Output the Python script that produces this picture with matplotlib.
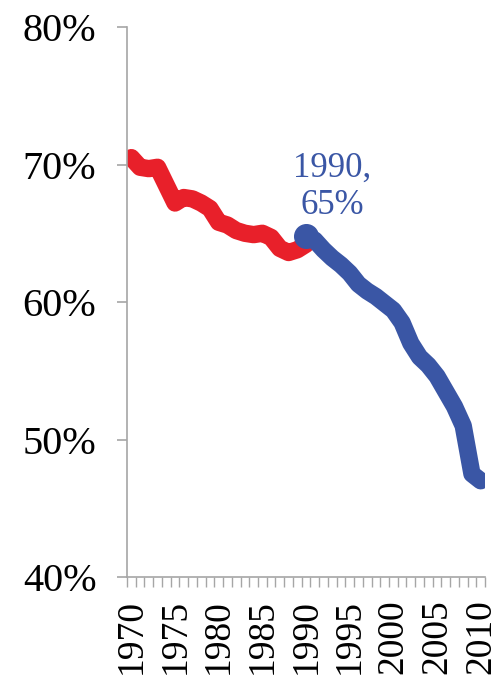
import numpy as np
import matplotlib.pyplot as plt

# share of something
red_years = np.arange(1970, 1991)
red_vals = [70.5, 69.8, 69.7, 69.8, 68.5, 67.2, 67.6, 67.5, 67.2, 66.8,
            65.8, 65.6, 65.2, 65.0, 64.9, 65.0, 64.7, 63.9, 63.6, 63.8, 64.2]

blue_years = np.arange(1990, 2011)
blue_vals = [64.8, 64.5, 63.8, 63.2, 62.7, 62.1, 61.3, 60.8, 60.4, 59.9,
             59.4, 58.5, 57.0, 56.0, 55.4, 54.6, 53.5, 52.4, 51.0, 47.5, 47.0]

ytick_vals = [40, 50, 60, 70, 80]
xtick_years = np.arange(1970, 2011, 5)

red = '#E8202A'
blue = '#3A56A5'
grey = '#A6A6A6'

plt.rcParams['font.family'] = ['Liberation Serif', 'DejaVu Serif']

fig = plt.figure(figsize=(4.98, 6.84), dpi=100)
ax = fig.add_axes([0.255, 0.1564, 0.719, 0.8041])

ax.plot(red_years, red_vals, color=red, lw=12.5, solid_capstyle='round', solid_joinstyle='round')
ax.plot(blue_years, blue_vals, color=blue, lw=12.5, solid_capstyle='round', solid_joinstyle='round')
ax.plot(blue_years[0], blue_vals[0], 'o', color=blue, ms=17)

ax.text(1993.0, 65.8, '1990,\n65%', color=blue, fontsize=25, ha='center', va='bottom',
        linespacing=1.2)

ax.set_ylim(40, 80)
ax.set_xlim(1969.5, 2010.5)
ax.set_yticks(ytick_vals)
ax.set_yticklabels([f'{v}%' for v in ytick_vals], fontsize=29)
ax.set_xticks(xtick_years)
ax.set_xticklabels([str(y) for y in xtick_years], fontsize=27, rotation=90)
ax.set_xticks(np.arange(1969.5, 2011, 1), minor=True)

ax.tick_params(axis='y', length=7, width=1.2, color=grey, pad=15)
ax.tick_params(axis='x', which='major', length=0, pad=16)
ax.tick_params(axis='x', which='minor', length=7, width=1, color=grey)

for side in ['top', 'right']:
    ax.spines[side].set_visible(False)
for side in ['left', 'bottom']:
    ax.spines[side].set_color(grey)
    ax.spines[side].set_linewidth(1.2)

plt.savefig('out.png', dpi=100)
